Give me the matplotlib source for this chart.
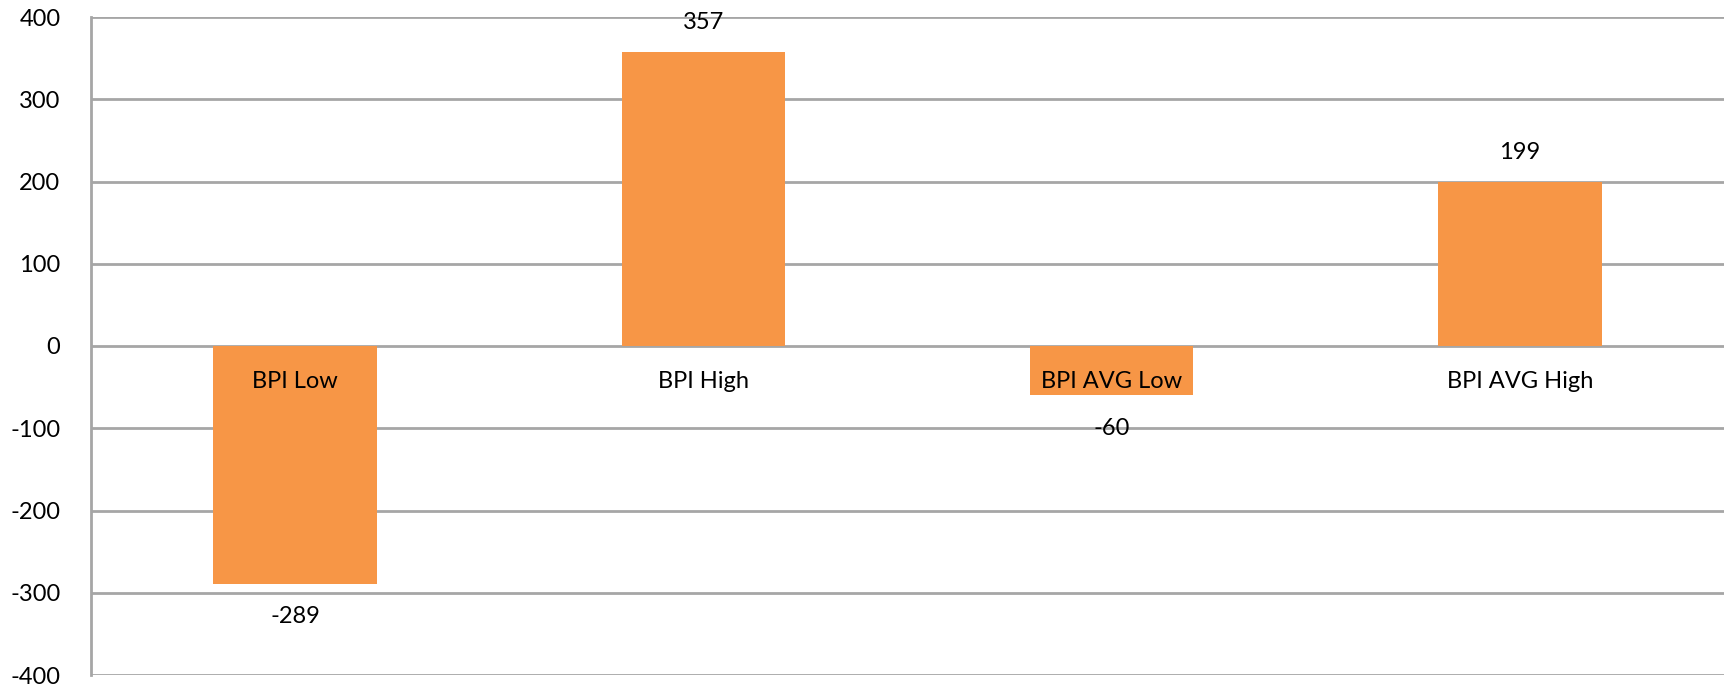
import matplotlib.pyplot as plt
import numpy as np

plt.rcParams['font.family'] = ['Lato', 'DejaVu Sans']

# data
categories = ['BPI Low', 'BPI High', 'BPI AVG Low', 'BPI AVG High']
values = [-289, 357, -60, 199]
yticks = list(range(-400, 401, 100))

bar_color = '#F79646'
grid_color = '#A6A6A6'

fig = plt.figure(figsize=(17.29, 6.92), dpi=100)
ax = fig.add_axes([91 / 1729, 17 / 692, (1724 - 91) / 1729, (675 - 17) / 692])

x = np.arange(len(categories))
ax.bar(x, values, width=0.4, color=bar_color, zorder=2)

ax.set_xlim(-0.5, len(categories) - 0.5)
ax.set_ylim(-400, 400)
ax.set_yticks(yticks)
ax.set_yticklabels([str(t) for t in yticks], fontsize=17)
ax.set_xticks([])
ax.tick_params(axis='y', length=0, pad=22)

for y in yticks:
    ax.axhline(y, color=grid_color, lw=2, zorder=1)

for s in ['top', 'right', 'bottom']:
    ax.spines[s].set_visible(False)
ax.spines['left'].set_color(grid_color)
ax.spines['left'].set_linewidth(2)

# category labels just under the zero line
for i, c in enumerate(categories):
    ax.annotate(c, (i, 0), xytext=(0, -35), textcoords='offset pixels',
                ha='center', va='center', fontsize=17, zorder=3)

# value labels outside bar ends
for i, v in enumerate(values):
    off = 30 if v > 0 else -33
    ax.annotate(str(v), (i, v), xytext=(0, off), textcoords='offset pixels',
                ha='center', va='center', fontsize=17, zorder=3)

plt.savefig('out.png', dpi=100)
